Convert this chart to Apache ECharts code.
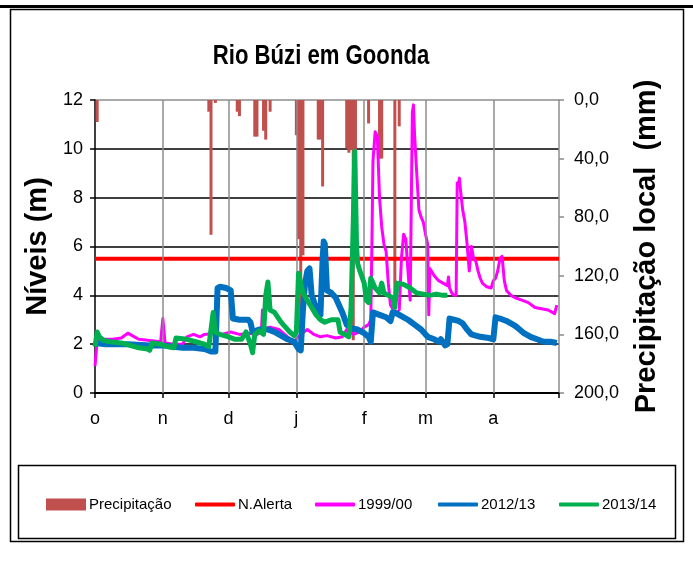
<!DOCTYPE html>
<html>
<head>
<meta charset="utf-8">
<script src="https://cdn.jsdelivr.net/npm/echarts@6/dist/echarts.min.js"></script>
<style>
  html, body { margin: 0; padding: 0; background: #fff; }
  #chart { width: 693px; height: 562px; }
</style>
</head>
<body>
<div id="chart"></div>
<script>
// days counted from 1 October (0) to 1 May (212)
var monthStarts = [0, 31, 61, 92, 123, 151, 182, 212];
var monthLabels = ['o', 'n', 'd', 'j', 'f', 'm', 'a', ''];

var alertLevel = 5.5;

// precipitation (mm), right axis, hanging from the top
var precipDays = [1, 52, 53, 55, 65, 66, 73, 74, 77, 78, 80, 92, 93, 94, 95, 102, 103, 104, 115, 116, 117, 118, 119, 125, 130, 131, 137, 139];
var precipMm   = [15, 8, 92, 2, 8, 11, 25, 25, 21, 27, 8, 24, 95, 165, 106, 27, 27, 59, 33, 36, 34, 164, 35, 16, 40, 40, 140, 18];

// river levels (m): [day, level]
var levels1999 = [
  [0, 1.1], [1, 2.2], [3, 2.2], [8, 2.2], [12, 2.25], [15, 2.45], [16, 2.4], [18, 2.3], [20, 2.2], [25, 2.15],
  [30, 2.1], [31, 3.05], [32, 2.05], [36, 2.0], [40, 2.0], [42, 2.3], [45, 2.4], [48, 2.3], [50, 2.4], [55, 2.45],
  [58, 2.4], [62, 2.5], [66, 2.4], [70, 2.45], [74, 2.4], [76, 2.5], [76.5, 3.4], [77, 2.6], [80, 2.7], [84, 2.6],
  [88, 2.3], [91, 2.1], [92, 2.2], [94, 2.4], [97, 2.6], [100, 2.4], [103, 2.3], [106, 2.35], [110, 2.25], [113, 2.3],
  [115, 2.6], [118, 2.4], [121, 2.5], [123, 2.7], [125, 2.8], [126, 3.0], [126.5, 6.0], [127, 9.5], [128, 10.7], [129, 10.5],
  [130, 8.0], [131, 6.8], [132, 6.1], [133, 5.8], [134, 4.5], [135, 3.6], [137, 3.3], [139, 3.4], [140, 5.5], [141, 6.5],
  [142, 6.3], [143, 5.0], [144, 3.8], [145, 11.5], [145.5, 11.8], [146, 10.6], [147, 9.0], [148, 7.5], [149, 7.2], [150, 7.0],
  [151, 6.5], [152, 6.1], [152.5, 3.2], [153, 5.1], [155, 4.8], [157, 4.6], [159, 4.5], [161, 4.4], [161.5, 4.75], [162, 4.3],
  [163, 4.1], [164, 4.0], [165, 4.0], [165.5, 8.6], [166, 8.5], [166.5, 8.8], [167, 8.3], [168, 7.5], [169, 7.0], [170, 6.1],
  [171, 5.0], [172, 6.0], [173, 5.5], [174, 5.4], [175, 5.0], [176, 4.7], [177, 4.5], [179, 4.35], [181, 4.3], [182, 4.6],
  [183, 4.7], [184, 5.0], [185, 5.5], [186, 5.6], [187, 4.6], [188, 4.2], [190, 4.0], [192, 3.9], [195, 3.8], [198, 3.7],
  [201, 3.5], [204, 3.45], [207, 3.4], [209, 3.3], [210, 3.25], [211, 3.6]
];

var levels2012 = [
  [0, 2.05], [5, 2.0], [15, 2.0], [25, 1.95], [31, 1.95], [35, 1.9], [40, 1.85], [45, 1.85], [50, 1.8], [53, 1.7],
  [55, 1.7], [56, 4.3], [57, 4.35], [60, 4.3], [62, 4.2], [63, 3.05], [66, 3.0], [70, 3.0], [71, 2.9], [72, 2.5],
  [75, 2.6], [79, 2.6], [82, 2.5], [85, 2.35], [88, 2.2], [91, 2.1], [93, 1.8], [94, 1.75], [95, 3.4], [96, 4.5],
  [97, 5.0], [98, 5.1], [99, 4.0], [101, 3.5], [102, 3.25], [103, 3.2], [104, 5.5], [104.5, 6.2], [105, 6.1], [106, 4.2],
  [108, 4.1], [110, 3.9], [111, 3.7], [113, 3.3], [115, 2.8], [117, 2.65], [120, 2.6], [123, 2.45], [125, 2.3], [126, 2.1],
  [127, 3.3], [130, 3.2], [133, 3.1], [135, 2.95], [136, 3.3], [138, 3.25], [140, 3.15], [143, 3.0], [146, 2.8], [149, 2.6],
  [152, 2.3], [155, 2.2], [157, 2.1], [158, 2.2], [160, 1.95], [161, 2.0], [162, 3.05], [164, 3.0], [166, 2.95], [168, 2.85],
  [170, 2.6], [172, 2.4], [176, 2.3], [180, 2.25], [182, 2.2], [183, 3.1], [185, 3.05], [188, 2.95], [190, 2.85], [192, 2.75],
  [194, 2.6], [196, 2.45], [199, 2.3], [202, 2.2], [205, 2.1], [208, 2.1], [211, 2.05]
];

var levels2013 = [
  [0, 1.9], [1, 2.5], [2, 2.3], [4, 2.15], [7, 2.1], [12, 2.05], [16, 1.95], [20, 1.85], [24, 1.8], [25, 1.75],
  [26, 2.05], [30, 2.0], [33, 1.9], [36, 1.85], [37, 2.25], [42, 2.2], [46, 2.1], [50, 2.0], [52, 1.9], [54, 3.3],
  [55, 2.5], [57, 2.4], [61, 2.3], [64, 2.2], [67, 2.2], [69, 2.5], [71, 2.0], [72, 1.65], [73, 2.4], [75, 2.55],
  [77, 2.4], [78, 4.0], [79, 4.55], [80, 3.4], [82, 3.3], [85, 2.9], [87, 2.7], [89, 2.5], [91, 2.35], [92, 2.5],
  [93, 4.9], [94, 4.5], [95, 4.1], [97, 3.8], [99, 3.5], [101, 3.2], [103, 3.0], [105, 2.9], [108, 3.0], [111, 3.0],
  [112, 2.5], [114, 2.4], [116, 2.3], [117, 3.5], [118, 7.0], [118.7, 9.9], [119.5, 6.0], [120, 5.3], [121, 5.0], [123, 4.5],
  [124, 3.8], [125, 3.7], [126, 4.7], [128, 4.3], [130, 4.1], [131, 4.5], [132, 4.1], [134, 4.0], [136, 3.9], [137, 3.5],
  [138, 4.5], [141, 4.45], [144, 4.3], [147, 4.1], [150, 4.05], [153, 4.0], [156, 4.05], [159, 4.0], [161, 4.0]
];

var sans = "'Liberation Sans', Arial, sans-serif";

var precipData = precipDays.map(function (d, i) { return [d, precipMm[i]]; });

function lineSeries(name, data, color, width, z) {
  return {
    name: name, type: 'line', data: data, yAxisIndex: 0,
    showSymbol: false, symbol: 'none', z: z,
    lineStyle: { color: color, width: width, join: 'round' },
    itemStyle: { color: color },
    animation: false
  };
}

// one small legend per entry so they sit where the original has them
function legendAt(name, left, h) {
  return {
    data: [name], left: left, top: 497, padding: 0, itemWidth: 40, itemHeight: h, itemGap: 0,
    icon: name === 'Precipitação' ? 'rect' : 'roundRect',
    textStyle: { fontFamily: sans, fontSize: 15, color: '#000', padding: [0, 0, 0, -2] },
    selectedMode: false
  };
}

var chart = echarts.init(document.getElementById('chart'), null, { renderer: 'canvas' });

chart.setOption({
  backgroundColor: '#fff',
  animation: false,
  legend: [
    legendAt('Precipitação', 46, 12),
    legendAt('N.Alerta', 195, 4),
    legendAt('1999/00', 315, 4),
    legendAt('2012/13', 438, 4),
    legendAt('2013/14', 559, 4)
  ],
  graphic: [
    { type: 'rect', silent: true, z: -10, shape: { x: 0, y: 5, width: 693, height: 3 }, style: { fill: '#000' } },
    { type: 'rect', silent: true, z: -10, shape: { x: 10.5, y: 9.5, width: 673, height: 532 }, style: { fill: 'none', stroke: '#000', lineWidth: 1.5 } },
    { type: 'rect', silent: true, z: -10, shape: { x: 18.5, y: 465.5, width: 657, height: 73 }, style: { fill: 'none', stroke: '#000', lineWidth: 1.5 } },
    // title, squeezed to look like the narrow face of the original
    {
      type: 'text', silent: true, x: 321, y: 57, scaleX: 0.82,
      style: { text: 'Rio Búzi em Goonda', x: 0, y: 0, align: 'center', verticalAlign: 'middle',
               font: "bold 27px 'Liberation Sans', Arial, sans-serif", fill: '#000' }
    }
  ],
  grid: { left: 95, right: 134, top: 100, bottom: 169 },
  xAxis: {
    type: 'value', min: 0, max: 212,
    axisLine: { show: true, onZero: false, lineStyle: { color: '#000', width: 2 } },
    axisTick: { show: true, customValues: monthStarts, length: 5, lineStyle: { color: '#000', width: 1.5 } },
    axisLabel: {
      customValues: monthStarts.slice(0, 7), margin: 17,
      fontFamily: sans, fontSize: 18, color: '#000',
      formatter: function (v) { return monthLabels[monthStarts.indexOf(v)]; }
    },
    splitLine: { show: false }
  },
  yAxis: [
    {
      type: 'value', min: 0, max: 12, interval: 2,
      name: 'Níveis (m)', nameLocation: 'middle', nameGap: 40, nameRotate: 90,
      nameTextStyle: { fontFamily: sans, fontSize: 29, fontWeight: 'bold', color: '#000' },
      axisLine: { show: true, lineStyle: { color: '#000', width: 1.5 } },
      axisTick: { show: true, length: 5, lineStyle: { color: '#000', width: 1.5 } },
      axisLabel: { fontFamily: sans, fontSize: 18, color: '#000', margin: 12 },
      splitLine: { show: true, lineStyle: { color: ['#000', '#000', '#000', '#000', '#000', '#000', '#8c8c8c'], width: 1.5 } }
    },
    {
      type: 'value', min: 0, max: 200, interval: 40, inverse: true, position: 'right',
      name: 'Precipitação local  (mm)', nameLocation: 'middle', nameGap: 73, nameRotate: 90,
      nameTextStyle: { fontFamily: sans, fontSize: 29, fontWeight: 'bold', color: '#000' },
      axisLine: { show: true, lineStyle: { color: '#8c8c8c', width: 1.5 } },
      axisTick: { show: true, length: 5, lineStyle: { color: '#8c8c8c', width: 1.5 } },
      axisLabel: {
        fontFamily: sans, fontSize: 18, color: '#000', margin: 15,
        formatter: function (v) { return v.toFixed(1).replace('.', ','); }
      },
      splitLine: { show: false }
    }
  ],
  series: [
    {
      name: 'Precipitação', type: 'bar', yAxisIndex: 1, data: precipData,
      barWidth: 3, z: 1,
      itemStyle: { color: '#C0504D' },
      // month dividers
      markLine: {
        silent: true, symbol: 'none', label: { show: false },
        lineStyle: { color: '#8c8c8c', width: 1.5, type: 'solid' },
        data: monthStarts.slice(1, 7).map(function (d) { return { xAxis: d }; })
      }
    },
    lineSeries('N.Alerta', [[0, alertLevel], [212, alertLevel]], '#FF0000', 4, 3),
    lineSeries('1999/00', levels1999, '#FF00FF', 3, 4),
    lineSeries('2012/13', levels2012, '#0070C0', 6, 5),
    lineSeries('2013/14', levels2013, '#00B050', 5, 6)
  ]
});
</script>
</body>
</html>
